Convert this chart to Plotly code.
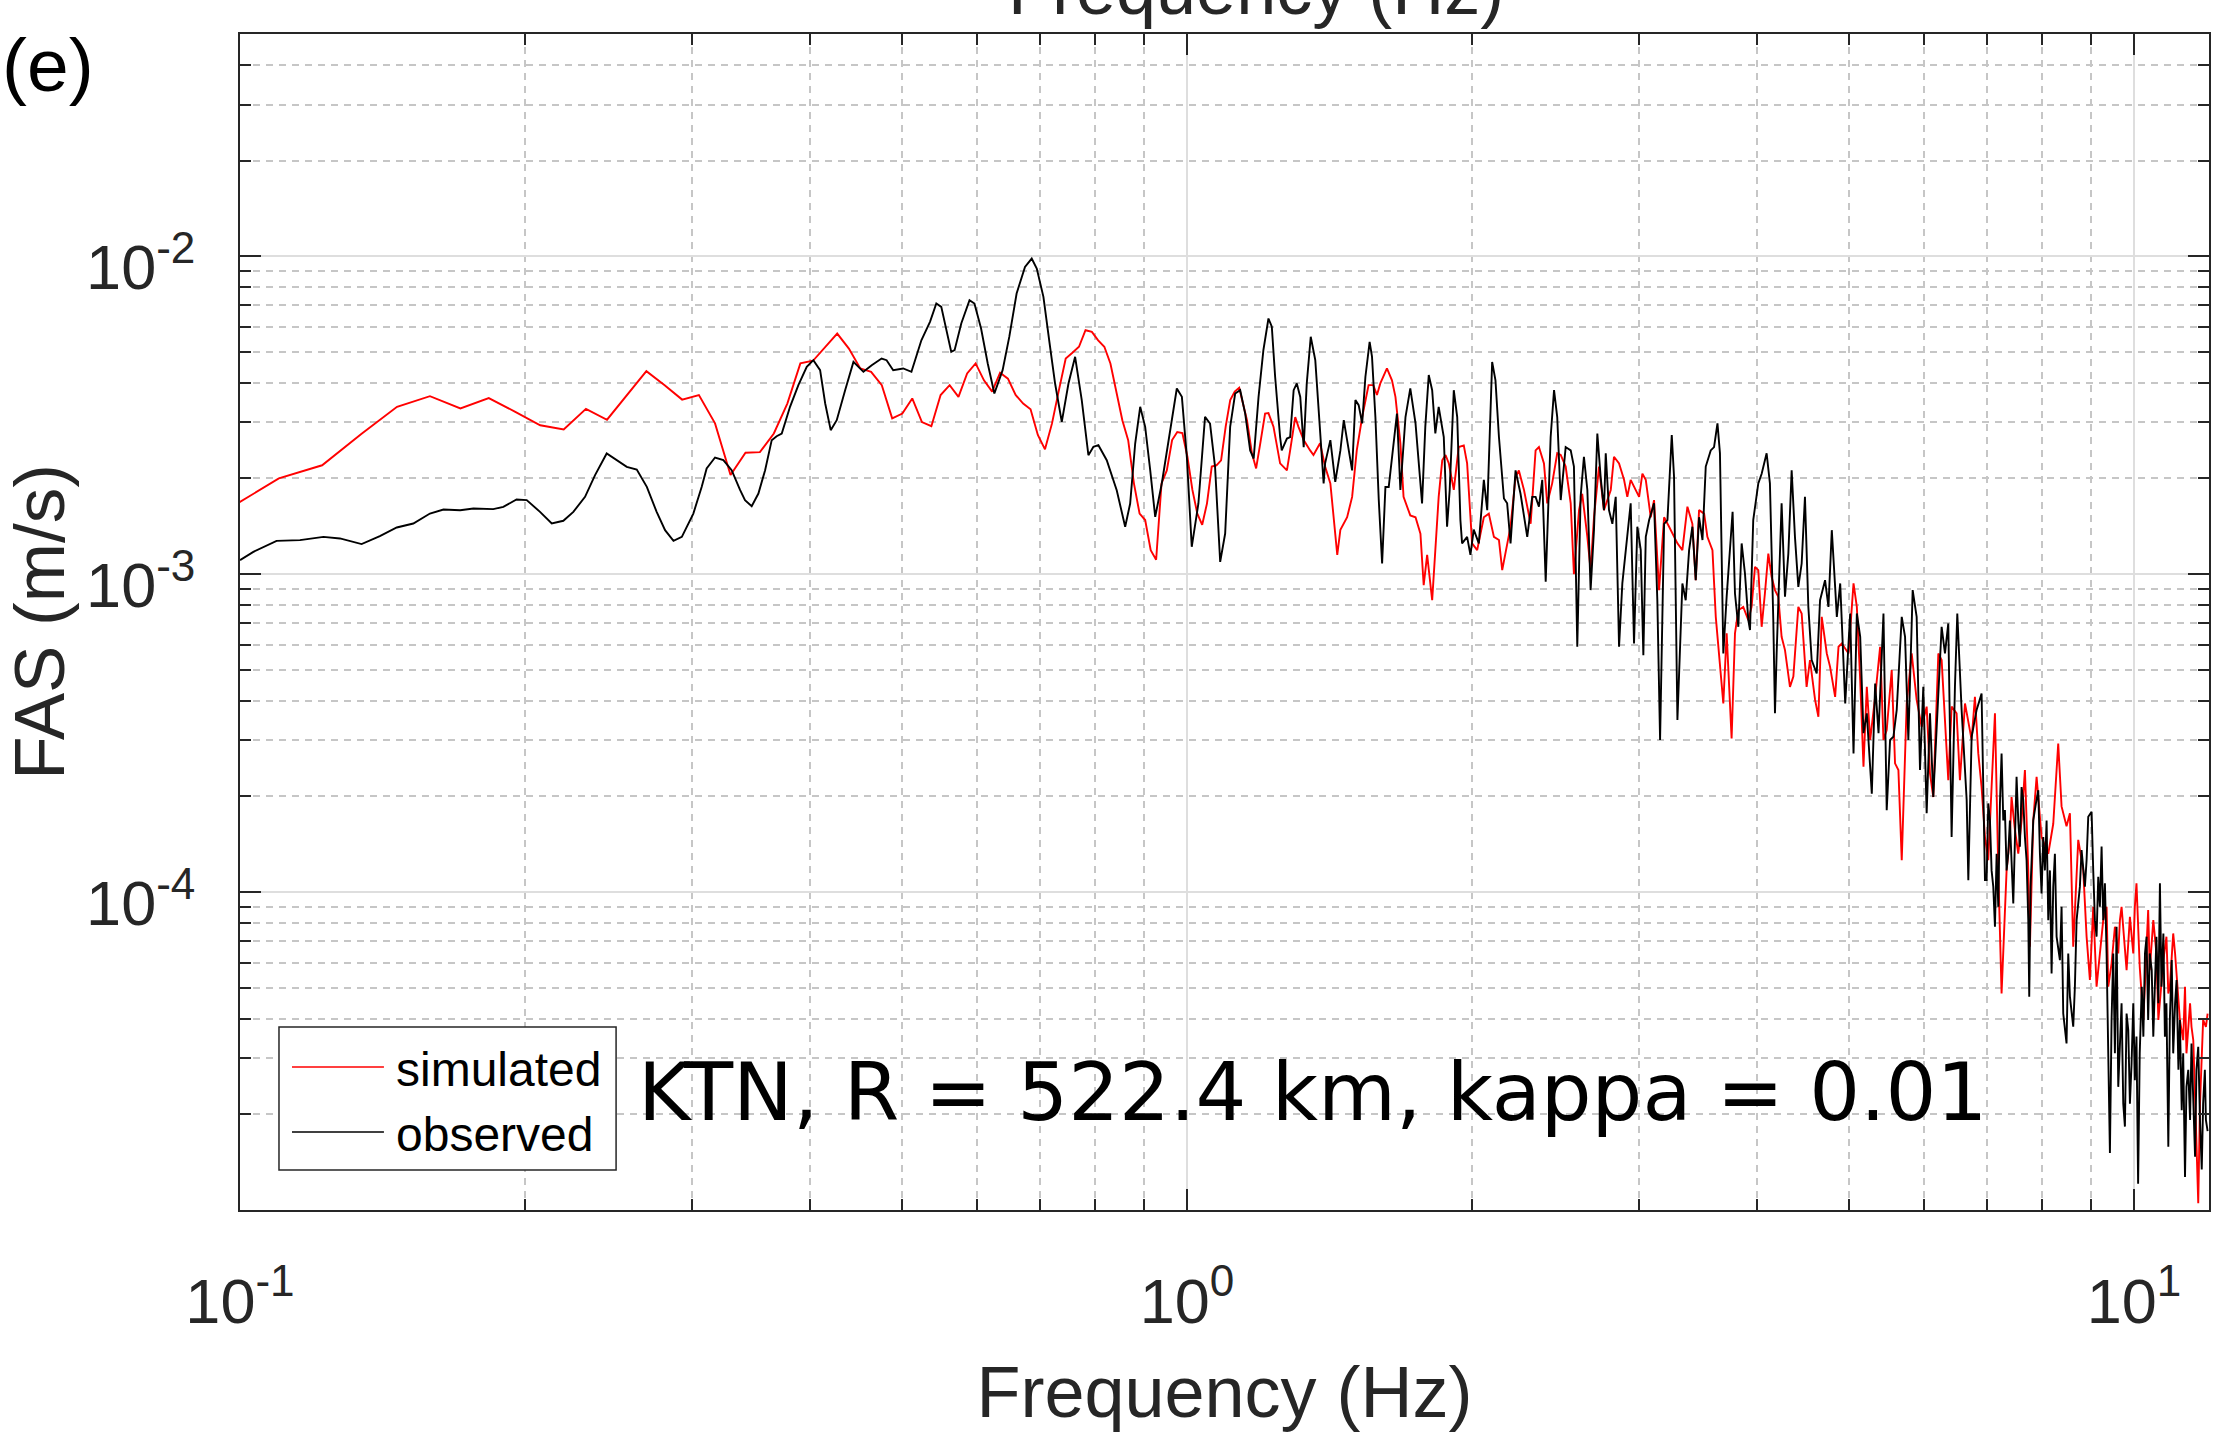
import math
import plotly.graph_objects as go

# Fourier amplitude spectra at station KTN (amplitudes in units of 1e-3 m/s)
FAS_UNIT = 1e-3

sim_freq = [
    0.0977, 0.1099, 0.1221, 0.1343, 0.1465, 0.1587, 0.1709, 0.1831, 0.1953, 0.2075,
    0.2197, 0.2319, 0.2441, 0.2563, 0.2686, 0.2808, 0.2930, 0.3052, 0.3174, 0.3296,
    0.3418, 0.3540, 0.3662, 0.3784, 0.3906, 0.4028, 0.4150, 0.4272, 0.4395, 0.4517,
    0.4639, 0.4761, 0.4883, 0.5005, 0.5127, 0.5249, 0.5371, 0.5493, 0.5615, 0.5737,
    0.5859, 0.5981, 0.6104, 0.6226, 0.6348, 0.6470, 0.6592, 0.6714, 0.6836, 0.6958,
    0.7080, 0.7202, 0.7324, 0.7446, 0.7568, 0.7690, 0.7813, 0.7935, 0.8057, 0.8179,
    0.8301, 0.8423, 0.8545, 0.8667, 0.8789, 0.8911, 0.9033, 0.9155, 0.9277, 0.9399,
    0.9521, 0.9644, 0.9766, 0.9888, 1.0010, 1.0132, 1.0254, 1.0376, 1.0498, 1.0620,
    1.0742, 1.0864, 1.0986, 1.1108, 1.1230, 1.1353,
    1.157, 1.171, 1.183, 1.195, 1.209, 1.219, 1.234, 1.254, 1.275, 1.285,
    1.301, 1.311, 1.328, 1.349, 1.360, 1.382, 1.399, 1.417, 1.434, 1.441,
    1.452, 1.476, 1.494, 1.511, 1.531, 1.555, 1.573, 1.587, 1.600, 1.626,
    1.646, 1.660, 1.680, 1.693, 1.721, 1.743, 1.764, 1.778, 1.793, 1.815,
    1.844, 1.860, 1.875, 1.890, 1.913, 1.936, 1.960, 1.976, 2.000, 2.025,
    2.058, 2.083, 2.109, 2.135, 2.152, 2.169, 2.196, 2.223, 2.241, 2.269,
    2.306, 2.334, 2.353, 2.382, 2.401, 2.430, 2.460, 2.481, 2.511, 2.542,
    2.562, 2.594, 2.614, 2.647, 2.668, 2.690, 2.723, 2.756, 2.802, 2.824,
    2.859, 2.894, 2.917, 2.941, 2.965, 3.002, 3.026, 3.051, 3.088, 3.113,
    3.151, 3.190, 3.229, 3.268, 3.295, 3.335, 3.376, 3.417, 3.445, 3.473,
    3.516, 3.544, 3.588, 3.617,
    3.654, 3.684, 3.714, 3.744, 3.759, 3.790, 3.821, 3.867, 3.915, 3.946,
    3.979, 4.011, 4.044, 4.076, 4.110, 4.143, 4.177, 4.211, 4.245, 4.280,
    4.332, 4.368, 4.421, 4.457, 4.511, 4.548, 4.605, 4.642, 4.680, 4.738,
    4.776, 4.835, 4.875, 4.914, 4.995, 5.056, 5.097, 5.139, 5.180, 5.222,
    5.265, 5.329, 5.394, 5.438, 5.481, 5.548, 5.593, 5.639, 5.685, 5.754,
    5.824, 5.895, 5.967, 6.040, 6.089, 6.138, 6.214, 6.264, 6.366, 6.418,
    6.496, 6.549, 6.630, 6.738, 6.792, 6.848, 6.903, 6.960, 7.016, 7.073,
    7.131,
    7.189, 7.247, 7.336, 7.395, 7.425, 7.486, 7.547, 7.608, 7.670, 7.733,
    7.764, 7.827, 7.891, 7.987, 8.118, 8.217, 8.317, 8.385, 8.487, 8.557,
    8.626, 8.732, 8.839, 8.911, 8.983, 9.056, 9.130, 9.204, 9.279, 9.355,
    9.393, 9.469, 9.546, 9.624, 9.663, 9.702, 9.781, 9.821, 9.901, 9.982,
    10.02, 10.06, 10.14, 10.23, 10.35, 10.39, 10.48, 10.56, 10.61, 10.65,
    10.74, 10.82, 10.87, 10.91, 11.00, 11.05, 11.14, 11.18, 11.27, 11.32,
    11.36, 11.46, 11.50, 11.55, 11.62, 11.69, 11.74, 11.79, 11.83, 11.91,
    11.96,
]

sim_fas = [
    1.618, 2.00, 2.20, 2.76, 3.36, 3.63, 3.32, 3.58, 3.24, 2.94,
    2.85, 3.31, 3.06, 3.66, 4.35, 3.93, 3.54, 3.66, 2.98, 2.05,
    2.41, 2.42, 2.77, 3.44, 4.60, 4.69, 5.19, 5.71, 5.12, 4.44,
    4.33, 3.93, 3.09, 3.20, 3.57, 3.01, 2.92, 3.66, 3.93, 3.61,
    4.28, 4.60, 4.07, 3.75, 4.30, 4.12, 3.66, 3.44, 3.30, 2.74,
    2.47, 2.98, 3.79, 4.77, 4.97, 5.19, 5.85, 5.78, 5.44, 5.19,
    4.60, 3.70, 3.05, 2.64, 1.93, 1.55, 1.48, 1.19, 1.11, 1.93,
    2.12, 2.64, 2.80, 2.78, 2.34, 1.84, 1.55, 1.43, 1.67, 2.18,
    2.20, 2.28, 2.91, 3.53, 3.75, 3.86,
    3.05, 2.40, 2.15, 2.58, 3.20, 3.21, 2.91, 2.23, 2.12, 2.45,
    3.12, 2.91, 2.64, 2.45, 2.37, 2.58, 2.18, 1.93, 1.28, 1.15,
    1.38, 1.51, 1.75, 2.45, 3.12, 3.93, 3.93, 3.66, 3.98, 4.44,
    4.07, 3.61, 2.58, 1.75, 1.53, 1.51, 1.34, 0.923, 1.15, 0.828,
    1.75, 2.28, 2.37, 2.23, 1.84, 2.51, 2.54, 2.23, 1.25, 1.19,
    1.51, 1.55, 1.31, 1.28, 1.03, 1.16, 1.41, 2.02, 2.12, 1.84,
    1.44, 2.45, 2.51, 2.23, 1.67, 1.93, 2.40, 2.37, 2.18, 1.67,
    1.00, 1.59, 1.79, 1.31, 1.03, 1.51, 2.18, 1.59, 1.84, 2.34,
    2.23, 1.98, 1.75, 1.98, 1.88, 1.75, 2.07, 1.98, 1.51, 1.71,
    0.891, 1.51, 1.41, 1.31, 1.25, 1.19, 1.63, 1.44, 0.957, 1.59,
    1.55, 1.31, 1.19, 0.734,
    0.511, 0.392, 0.651, 0.411, 0.304, 0.651, 0.770, 0.789, 0.717, 0.789,
    1.054, 1.03, 0.683, 0.869, 1.16, 0.981, 0.891, 0.849, 0.635, 0.577,
    0.442, 0.476, 0.789, 0.752, 0.442, 0.537, 0.402, 0.356, 0.734, 0.563,
    0.511, 0.411, 0.591, 0.605, 0.563, 0.935, 0.789, 0.464, 0.248, 0.442,
    0.301, 0.411, 0.591, 0.301, 0.323, 0.499, 0.254, 0.242, 0.126, 0.392,
    0.563, 0.402, 0.331, 0.383, 0.236, 0.199, 0.563, 0.537, 0.225, 0.383,
    0.365, 0.225, 0.392, 0.301, 0.411, 0.273, 0.214, 0.149, 0.126, 0.214,
    0.365,
    0.117, 0.0480, 0.117, 0.149, 0.199, 0.157, 0.132, 0.168, 0.242, 0.117,
    0.0673, 0.168, 0.2305, 0.149, 0.132, 0.164, 0.293, 0.186, 0.161, 0.177,
    0.0673, 0.146, 0.117, 0.0724, 0.0529, 0.0899, 0.0504, 0.0641, 0.0816, 0.0899,
    0.0504, 0.0597, 0.0778, 0.0641, 0.0816, 0.0899, 0.0673, 0.0568, 0.0836, 0.0641,
    0.0899, 0.1065, 0.0582, 0.0396, 0.0878, 0.0568, 0.0816, 0.0641, 0.0396, 0.0447,
    0.0611, 0.0724, 0.0480, 0.0504, 0.0741, 0.0641, 0.0436, 0.0396, 0.0342, 0.0504,
    0.0311, 0.0447, 0.0377, 0.0342, 0.0192, 0.0105, 0.0216, 0.0311, 0.0396, 0.0377,
    0.0415,
]

obs_freq = [
    0.1000, 0.1033, 0.1093, 0.1157, 0.1225, 0.1275, 0.1344, 0.1405, 0.1464, 0.1524,
    0.1587, 0.1640, 0.1708, 0.1764, 0.1851, 0.1897, 0.1959, 0.2008, 0.2074, 0.2134,
    0.2195, 0.2249, 0.2314, 0.2371, 0.2439, 0.2499, 0.2561, 0.2624, 0.2689, 0.2754,
    0.2811, 0.2869, 0.2928, 0.3011, 0.3073, 0.3110, 0.3174, 0.3239, 0.3305, 0.3373,
    0.3414, 0.3470, 0.3527, 0.3585, 0.3643, 0.3687, 0.3733, 0.3809, 0.3887, 0.3967,
    0.4031, 0.4098, 0.4149, 0.4205, 0.4267, 0.4355, 0.4444, 0.4553, 0.4646, 0.4759,
    0.4817, 0.4895, 0.5015, 0.5117, 0.5242, 0.5353, 0.5436, 0.5502, 0.5637, 0.5683,
    0.5776, 0.5893, 0.5964, 0.6061, 0.6160, 0.6260, 0.6387, 0.6491, 0.6608, 0.6744,
    0.6855, 0.6940, 0.7053, 0.7168, 0.7256, 0.7375, 0.7496, 0.7618, 0.7742, 0.7868,
    0.7965, 0.8062, 0.8227, 0.8429, 0.8604, 0.8709, 0.8816, 0.8924, 0.9033, 0.9144,
    0.9256, 0.9405, 0.9598, 0.9755, 0.9876, 0.9996, 1.0116, 1.0281, 1.0448, 1.0576,
    1.0706, 1.0840, 1.0972, 1.1106, 1.1242,
    1.138, 1.152, 1.166, 1.176, 1.190, 1.204, 1.219, 1.229, 1.239, 1.254,
    1.259, 1.275, 1.285, 1.296, 1.306, 1.317, 1.328, 1.338, 1.351, 1.366,
    1.382, 1.394, 1.399, 1.417, 1.434, 1.452, 1.464, 1.482, 1.494, 1.506,
    1.518, 1.531, 1.543, 1.559, 1.568, 1.581, 1.594, 1.607, 1.620, 1.633,
    1.653, 1.666, 1.680, 1.701, 1.721, 1.743, 1.771, 1.785, 1.800, 1.815,
    1.829, 1.844, 1.867, 1.882, 1.894, 1.913, 1.929, 1.944, 1.952, 1.976,
    1.992, 2.008, 2.033, 2.058, 2.075, 2.100, 2.117, 2.135, 2.161, 2.178,
    2.196, 2.223, 2.250, 2.287, 2.315, 2.334, 2.353, 2.372, 2.392, 2.421,
    2.441, 2.460, 2.481, 2.511, 2.542, 2.562, 2.583, 2.604, 2.625, 2.647,
    2.668, 2.690, 2.712, 2.734, 2.756, 2.768, 2.790, 2.813, 2.836, 2.859,
    2.882, 2.917, 2.941, 2.965, 2.989, 3.014, 3.033, 3.051, 3.076, 3.113,
    3.138, 3.159, 3.190, 3.216, 3.250, 3.268, 3.295, 3.335, 3.362, 3.390,
    3.417, 3.445, 3.473, 3.502, 3.530, 3.573, 3.602, 3.632,
    3.654, 3.684, 3.714, 3.768, 3.790, 3.821, 3.852, 3.883, 3.915, 3.931,
    3.962, 4.011, 4.044, 4.093, 4.126, 4.160, 4.177, 4.194, 4.245, 4.280,
    4.315, 4.350, 4.385, 4.421, 4.457, 4.493, 4.530, 4.567, 4.623, 4.661,
    4.718, 4.757, 4.796, 4.835, 4.855, 4.895, 4.955, 5.015, 5.056, 5.097,
    5.139, 5.180, 5.222, 5.286, 5.329, 5.373, 5.438, 5.481, 5.526, 5.571,
    5.616, 5.685, 5.731, 5.777, 5.838, 5.895, 5.943, 5.991, 6.040, 6.089,
    6.138, 6.264, 6.315, 6.366, 6.418, 6.470, 6.507, 6.576, 6.657, 6.684,
    6.738, 6.820, 6.903, 6.960,
    6.988, 7.016, 7.045, 7.073, 7.102, 7.131, 7.160, 7.189, 7.218, 7.247,
    7.277, 7.306, 7.336, 7.365, 7.395, 7.456, 7.486, 7.516, 7.547, 7.577,
    7.608, 7.639, 7.670, 7.701, 7.733, 7.751, 7.776, 7.827, 7.878, 7.923,
    7.955, 7.987, 8.020, 8.052, 8.085, 8.118, 8.151, 8.184, 8.217, 8.250,
    8.284, 8.351, 8.385, 8.419, 8.487, 8.522, 8.557, 8.626, 8.661, 8.697,
    8.767, 8.803, 8.875, 8.911, 8.947, 9.020, 9.056, 9.093, 9.130, 9.167,
    9.204, 9.242, 9.279, 9.317,
    9.355, 9.393, 9.431, 9.469, 9.507, 9.546, 9.585, 9.624, 9.663, 9.702,
    9.742, 9.781, 9.821, 9.861, 9.901, 9.941, 9.982, 10.02, 10.06, 10.10,
    10.14, 10.19, 10.23, 10.27, 10.31, 10.35, 10.39, 10.44, 10.48, 10.52,
    10.56, 10.61, 10.65, 10.69, 10.74, 10.78, 10.82, 10.87, 10.91, 10.96,
    11.00, 11.05, 11.09, 11.14, 11.18, 11.23, 11.27, 11.32, 11.36, 11.41,
    11.46, 11.50, 11.55, 11.60, 11.64, 11.69, 11.74, 11.79, 11.83, 11.88,
    11.91, 11.96,
]

obs_fas = [
    1.107, 1.175, 1.273, 1.279, 1.310, 1.295, 1.243, 1.317, 1.402, 1.443,
    1.551, 1.597, 1.589, 1.609, 1.601, 1.628, 1.718, 1.709, 1.570, 1.443,
    1.472, 1.570, 1.751, 2.048, 2.397, 2.283, 2.175, 2.134, 1.882, 1.570,
    1.375, 1.273, 1.310, 1.551, 1.882, 2.149, 2.327, 2.283, 2.123, 1.840,
    1.709, 1.636, 1.793, 2.123, 2.639, 2.716, 2.769, 3.360, 3.929, 4.487,
    4.710, 4.381, 3.442, 2.837, 3.050, 3.790, 4.653, 4.328, 4.542, 4.767,
    4.710, 4.381, 4.435, 4.328, 5.442, 6.216, 7.098, 6.929, 5.003, 5.063,
    6.141, 7.271, 7.098, 5.923, 4.597, 3.700, 4.381, 5.575, 7.630, 9.258,
    9.833, 9.147, 7.448, 5.187, 3.977, 3.013, 3.977, 4.825, 3.525, 2.367,
    2.514, 2.545, 2.283, 1.837, 1.409, 1.668, 2.576, 3.360, 2.906, 2.123,
    1.514, 1.928, 2.837, 3.836, 3.612, 2.339, 1.219, 1.668, 3.125, 2.977,
    2.175, 1.093, 1.342, 2.906, 3.700,
    3.79, 3.20, 2.45, 2.31, 3.61, 5.06, 6.37, 6.00, 4.17, 2.70,
    2.45, 2.67, 2.70, 3.79, 3.98, 3.61, 2.51, 3.98, 5.58, 4.71,
    2.70, 1.93, 2.23, 2.64, 1.95, 2.45, 3.05, 2.45, 2.12, 3.53,
    3.40, 2.98, 4.17, 5.38, 4.83, 3.12, 1.71, 1.08, 1.88, 1.88,
    2.64, 3.20, 1.84, 3.12, 3.84, 2.98, 1.67, 2.91, 4.23, 3.79,
    2.77, 3.36, 2.70, 1.41, 1.84, 3.79, 3.12, 1.48, 1.25, 1.31,
    1.15, 1.38, 1.25, 1.98, 1.59, 4.65, 4.07, 2.70, 1.73, 1.67,
    1.25, 2.12, 1.79, 1.31, 1.75, 1.75, 1.63, 1.98, 0.946, 2.70,
    3.79, 3.12, 1.71, 2.51, 2.45, 2.18, 0.591, 1.75, 2.34, 1.84,
    0.891, 1.38, 2.77, 2.02, 1.59, 2.40, 1.59, 1.44, 1.75, 0.591,
    0.935, 1.34, 1.67, 0.605, 1.41, 1.19, 0.556, 1.31, 1.48, 1.67,
    0.828, 0.301, 1.44, 1.48, 2.74, 2.02, 0.348, 0.935, 0.828, 1.19,
    1.41, 0.957, 1.51, 1.28, 2.18, 2.45, 2.51, 2.98,
    2.40, 0.563, 0.849, 1.571, 0.869, 0.683, 1.249, 1.005, 0.717, 0.667,
    1.48, 1.93, 2.07, 2.40, 1.93, 0.717, 0.365, 0.563, 1.67, 0.849,
    1.16, 2.12, 1.31, 0.912, 1.08, 1.75, 0.789, 0.537, 0.487, 0.828,
    0.957, 0.789, 1.375, 0.912, 0.734, 0.935, 0.392, 0.752, 0.273, 0.752,
    0.635, 0.316, 0.365, 0.204, 0.453, 0.316, 0.752, 0.181, 0.301, 0.308,
    0.374, 0.734, 0.635, 0.301, 0.891, 0.734, 0.242, 0.442, 0.177, 0.365,
    0.199, 0.683, 0.563, 0.700, 0.149, 0.442, 0.752, 0.374, 0.195, 0.109,
    0.308, 0.374, 0.421, 0.109,
    0.109, 0.190, 0.168, 0.117, 0.104, 0.0778, 0.132, 0.0899, 0.190, 0.273,
    0.168, 0.181, 0.117, 0.132, 0.168, 0.0921, 0.149, 0.2305, 0.168, 0.139,
    0.214, 0.195, 0.149, 0.126, 0.0816, 0.0469, 0.104, 0.168, 0.190, 0.209,
    0.132, 0.0990, 0.149, 0.117, 0.168, 0.0816, 0.117, 0.0555, 0.104, 0.132,
    0.0724, 0.0611, 0.0899, 0.0415, 0.0334, 0.0641, 0.0469, 0.0377, 0.0504, 0.0816,
    0.104, 0.1355, 0.104, 0.126, 0.1725, 0.179, 0.117, 0.0816, 0.0724, 0.1117,
    0.0899, 0.139, 0.0816, 0.1065,
    0.0641, 0.0342, 0.0151, 0.0396, 0.0641, 0.0311, 0.0778, 0.0244, 0.0351, 0.0447,
    0.0216, 0.0183, 0.0415, 0.0368, 0.0216, 0.0289, 0.0447, 0.0256, 0.0351, 0.0121,
    0.0311, 0.0504, 0.0351, 0.0641, 0.0724, 0.0396, 0.0641, 0.0568, 0.0351, 0.0480,
    0.0724, 0.0447, 0.1065, 0.0504, 0.0741, 0.0351, 0.0447, 0.0158, 0.0396, 0.0611,
    0.0311, 0.0447, 0.0529, 0.0276, 0.0396, 0.0206, 0.0311, 0.0127, 0.0244, 0.0276,
    0.0192, 0.0334, 0.0216, 0.0147, 0.0276, 0.0326, 0.0192, 0.0134, 0.0216, 0.0276,
    0.0192, 0.0177,
]

if len(sim_freq) != len(sim_fas):
    raise ValueError(f"simulated: {len(sim_freq)} freqs vs {len(sim_fas)} amplitudes")
if len(obs_freq) != len(obs_fas):
    raise ValueError(f"observed: {len(obs_freq)} freqs vs {len(obs_fas)} amplitudes")

x_tick_vals = [0.1, 1, 10]
x_tick_text = ["10<sup>-1</sup>", "10<sup>0</sup>", "10<sup>1</sup>"]
y_tick_vals = [1e-4, 1e-3, 1e-2]
y_tick_text = ["10<sup>-4</sup>", "10<sup>-3</sup>", "10<sup>-2</sup>"]
x_minor_vals = [0.2, 0.3, 0.4, 0.5, 0.6, 0.7, 0.8, 0.9, 2, 3, 4, 5, 6, 7, 8, 9]
y_minor_vals = ([k * 1e-5 for k in range(2, 10)] + [k * 1e-4 for k in range(2, 10)]
                + [k * 1e-3 for k in range(2, 10)] + [2e-2, 3e-2, 4e-2])

station_label = "KTN, R = 522.4 km, kappa = 0.01"
panel_label = "(e)"
legend_labels = ["simulated", "observed"]
series_colors = ["#ff0000", "#000000"]

AXIS = "#262626"
SANS = "Liberation Sans, Arial, Helvetica, sans-serif"

fig = go.Figure()
fig.add_trace(go.Scatter(
    x=sim_freq, y=[v * FAS_UNIT for v in sim_fas], mode="lines",
    name=legend_labels[0], line=dict(color=series_colors[0], width=1.9),
    showlegend=False,
))
fig.add_trace(go.Scatter(
    x=obs_freq, y=[v * FAS_UNIT for v in obs_fas], mode="lines",
    name=legend_labels[1], line=dict(color=series_colors[1], width=1.9),
    showlegend=False,
))

axis_common = dict(
    type="log",
    showline=True, linecolor=AXIS, linewidth=2, mirror="allticks",
    ticks="inside", ticklen=21, tickwidth=2, tickcolor=AXIS,
    tickfont=dict(family=SANS, size=63, color=AXIS),
    showgrid=True, gridcolor="#dedede", gridwidth=1.5,
    zeroline=False,
)
minor_common = dict(
    ticks="inside", ticklen=11, tickwidth=2, tickcolor=AXIS,
    showgrid=True, gridcolor="#c6c6c6", gridwidth=1.5, griddash="7px,6px",
)

fig.update_layout(
    width=2230, height=1432,
    margin=dict(l=240, r=21, t=34, b=222),
    paper_bgcolor="white", plot_bgcolor="white",
    xaxis=dict(
        axis_common, range=[-1, math.log10(12)],
        tickmode="array", tickvals=x_tick_vals, ticktext=x_tick_text,
        ticklabelstandoff=35,
        minor=dict(minor_common, tickmode="array", tickvals=x_minor_vals),
        title=dict(text="Frequency (Hz)", font=dict(family=SANS, size=72, color=AXIS),
                   standoff=32),
    ),
    yaxis=dict(
        axis_common, range=[-5, math.log10(0.05)],
        tickmode="array", tickvals=y_tick_vals, ticktext=y_tick_text,
        ticklabelstandoff=30, ticklabelshift=11,
        minor=dict(minor_common, tickmode="array", tickvals=y_minor_vals),
        title=dict(text="FAS (m/s)", font=dict(family=SANS, size=71, color=AXIS),
                   standoff=24),
    ),
)

# legend box with long line samples
fig.add_shape(type="rect", xref="paper", yref="paper",
              x0=0.0198, x1=0.1910, y0=0.0340, y1=0.1556,
              line=dict(color=AXIS, width=1.5), fillcolor="white", layer="above")
for label, color, ypos in zip(legend_labels, series_colors, [0.1216, 0.0663]):
    fig.add_shape(type="line", xref="paper", yref="paper",
                  x0=0.0264, x1=0.0731, y0=ypos, y1=ypos,
                  line=dict(color=color, width=1.6), layer="above")
    fig.add_annotation(text=label, xref="paper", yref="paper",
                       x=0.0780, y=ypos - 0.0020, xanchor="left", yanchor="middle",
                       showarrow=False, font=dict(family=SANS, size=48, color="#000000"))

fig.add_annotation(text=station_label, xref="paper", yref="paper",
                   x=0.2011, y=0.0997, xanchor="left", yanchor="middle",
                   showarrow=False, font=dict(family="DejaVu Sans", size=80, color="#000000"))

fig.add_annotation(text=panel_label, xref="paper", yref="paper",
                   x=-0.1219, y=0.974, xanchor="left", yanchor="middle",
                   showarrow=False, font=dict(family=SANS, size=75, color="#000000"))

# axis title of the panel above, reaching into the top of this one
fig.add_annotation(text="Frequency (Hz)", xref="paper", yref="paper",
                   x=0.516, y=1.0386, xanchor="center", yanchor="middle",
                   showarrow=False, font=dict(family=SANS, size=72, color=AXIS))

fig.write_html("out.html")
